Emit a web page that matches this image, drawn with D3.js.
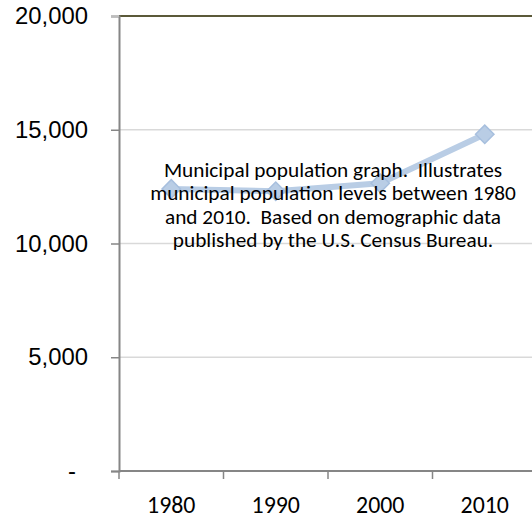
<!DOCTYPE html>
<html>
<head>
<meta charset="utf-8">
<script src="https://cdn.jsdelivr.net/npm/d3@7"></script>
<style>
  body { margin: 0; background: #fff; overflow: hidden; }
  svg { display: block; font-family: Carlito, Calibri, Lato, sans-serif; }
  .grid line { stroke: #d9d9d9; stroke-width: 1.5; }
  .annot { white-space: pre; }
</style>
</head>
<body>
<div id="chart"></div>
<script>
var years = ["1980", "1990", "2000", "2010"];
var population = [12400, 12300, 12650, 14800];
var yTicks = [0, 5000, 10000, 15000, 20000];
var note = [
    "Municipal population graph.  Illustrates",
    "municipal population levels between 1980",
    "and 2010.  Based on demographic data",
    "published by the U.S. Census Bureau."
];

var width = 532, height = 519;
var plot = {left: 119, top: 16, right: 537, bottom: 471};

var svg = d3.select("#chart").append("svg")
            .attr("width", width)
            .attr("height", height);

var x = d3.scaleBand()
          .domain(years)
          .range([plot.left, plot.right]);

var y = d3.scaleLinear()
          .domain([0, 20000])
          .range([plot.bottom, plot.top]);

// horizontal gridlines
svg.append("g")
   .attr("class", "grid")
   .selectAll("line")
   .data(yTicks.slice(1, 4))
   .join("line")
     .attr("x1", plot.left)
     .attr("x2", width)
     .attr("y1", function(d) { return y(d); })
     .attr("y2", function(d) { return y(d); });

// top border of the plot area
svg.append("line")
   .attr("x1", plot.left).attr("x2", width)
   .attr("y1", plot.top).attr("y2", plot.top)
   .attr("stroke", "#5b5939")
   .attr("stroke-width", 2);

// y axis
var yAxis = d3.axisLeft(y)
              .tickValues(yTicks)
              .tickSize(8)
              .tickPadding(23)
              .tickFormat(function(d) { return d === 0 ? "-" : d3.format(",")(d); });
var yGroup = svg.append("g")
                .attr("transform", "translate(" + plot.left + ",0)")
                .call(yAxis);
yGroup.select(".domain").attr("stroke", "#868686").attr("stroke-width", 2);
yGroup.selectAll(".tick line").attr("stroke", "#868686").attr("stroke-width", 1.5);
yGroup.selectAll(".tick").filter(function(d) { return d === 20000; })
      .select("line").attr("stroke", "#bdbdbd");
yGroup.selectAll(".tick text")
      .attr("fill", "#000")
      .style("font-size", "24px")
      .attr("dx", function(d) { return d === 0 ? -12 : 0; });

// x axis (ticks sit on band edges)
var xAxisLine = svg.append("g");
xAxisLine.append("line")
         .attr("x1", plot.left).attr("x2", width)
         .attr("y1", plot.bottom).attr("y2", plot.bottom)
         .attr("stroke", "#868686").attr("stroke-width", 2);
xAxisLine.selectAll("line.xtick")
         .data(years)
         .join("line")
           .attr("class", "xtick")
           .attr("x1", function(d) { return x(d); })
           .attr("x2", function(d) { return x(d); })
           .attr("y1", plot.bottom)
           .attr("y2", plot.bottom + 8)
           .attr("stroke", "#868686").attr("stroke-width", 1.5);
xAxisLine.selectAll("text")
         .data(years)
         .join("text")
           .attr("x", function(d) { return x(d) + x.bandwidth() / 2; })
           .attr("y", 513)
           .attr("text-anchor", "middle")
           .style("font-size", "24px")
           .text(function(d) { return d; });

// series
var pts = years.map(function(d, i) { return {year: d, value: population[i]}; });
var line = d3.line()
             .x(function(d) { return x(d.year) + x.bandwidth() / 2; })
             .y(function(d) { return y(d.value); });

svg.append("path")
   .datum(pts)
   .attr("d", line)
   .attr("fill", "none")
   .attr("stroke", "#b9cde5")
   .attr("stroke-width", 6)
   .attr("stroke-linejoin", "round");

svg.selectAll("path.marker")
   .data(pts)
   .join("path")
     .attr("class", "marker")
     .attr("d", d3.symbol(d3.symbolSquare, 170))
     .attr("transform", function(d) {
         return "translate(" + (x(d.year) + x.bandwidth() / 2) + "," + y(d.value) + ") rotate(45)";
     })
     .attr("fill", "#b9cde5")
     .attr("stroke", "#a7bfde")
     .attr("stroke-width", 1.5);

// annotation text over the chart
var annot = svg.append("text")
               .attr("class", "annot")
               .attr("text-anchor", "middle")
               .style("font-size", "18.5px");
annot.selectAll("tspan")
     .data(note)
     .join("tspan")
       .attr("x", 333)
       .attr("y", function(d, i) { return 177 + i * 23.4; })
       .text(function(d) { return d; });

// fit text widths to the reference
var widest = d3.max(annot.selectAll("tspan").nodes(), function(n) { return n.getComputedTextLength(); });
annot.style("font-size", (18.5 * 366 / widest) + "px");

var lbl = yGroup.selectAll(".tick text").filter(function(d) { return d === 20000; }).node();
var fs = 24 * 73 / lbl.getComputedTextLength();
yGroup.selectAll(".tick text").style("font-size", fs + "px");
xAxisLine.selectAll("text").style("font-size", fs + "px");
</script>
</body>
</html>
